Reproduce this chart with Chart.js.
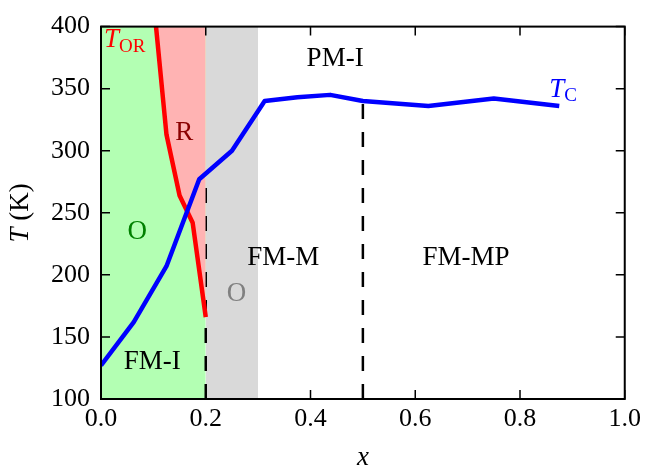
<!DOCTYPE html>
<html>
<head>
<meta charset="utf-8">
<script src="https://cdn.jsdelivr.net/npm/chart.js@4.4.1/dist/chart.umd.min.js"></script>
<style>
  html, body { margin: 0; padding: 0; background: #fff; }
</style>
</head>
<body>
<canvas id="phase" width="646" height="471"></canvas>
<script>
// Curie temperature T_C(x)
const xTc = [0, 0.0625, 0.125, 0.1875, 0.25, 0.3125, 0.375, 0.4375, 0.5, 0.625, 0.75, 0.875];
const tTc = [127, 162, 207, 277, 300, 340, 343, 345, 340, 336, 342, 336];

// orthorhombic -> rhombohedral transition T_OR(x)
const xTor = [0.1, 0.125, 0.15, 0.175, 0.2];
const tTor = [422, 313, 264, 242, 166];

// dashed phase boundaries: x, lower T, upper T
const boundaryX = [0.2, 0.5];
const boundaryLow = [100, 100];
const boundaryHigh = [280, 340];

// shaded composition ranges
const greenSpan = [0, 0.2];
const graySpan = [0.2, 0.3];

// axes
const xRange = [0, 1];
const yRange = [100, 400];
const xTicks = [0, 0.2, 0.4, 0.6, 0.8, 1.0];
const yTicks = [100, 150, 200, 250, 300, 350, 400];

const SERIF = "'Liberation Serif', 'DejaVu Serif', serif";
Chart.defaults.font.family = SERIF;

// text labels (data coords, alphabetic baseline)
const phaseLabels = [
    { text: 'PM-I',  x: 0.447, y: 368, color: '#000000' },
    { text: 'FM-M',  x: 0.348, y: 208, color: '#000000' },
    { text: 'FM-MP', x: 0.697, y: 208, color: '#000000' },
    { text: 'FM-I',  x: 0.098, y: 124, color: '#000000' },
    { text: 'R',     x: 0.159, y: 309, color: '#8b0000' },
    { text: 'O',     x: 0.069, y: 229, color: '#008000' },
    { text: 'O',     x: 0.2585, y: 179, color: '#808080' }
];

function setFont(ctx, italic, size) {
    ctx.font = (italic ? 'italic ' : '') + size + 'px ' + SERIF;
}

// draws a run of text pieces with different styles, left or centered
function richText(ctx, parts, x, y, align) {
    let total = 0;
    parts.forEach(p => {
        setFont(ctx, p.italic, p.size);
        p.w = ctx.measureText(p.text).width;
        total += p.w;
    });
    let cx = align === 'center' ? x - total / 2 : x;
    ctx.textAlign = 'left';
    ctx.textBaseline = 'alphabetic';
    parts.forEach(p => {
        setFont(ctx, p.italic, p.size);
        ctx.fillText(p.text, cx, y + (p.dy || 0));
        cx += p.w;
    });
}

const decorPlugin = {
    id: 'decor',
    afterDatasetsDraw(chart) {
        const ctx = chart.ctx;
        const area = chart.chartArea;
        const sx = chart.scales.x;
        const sy = chart.scales.y;
        ctx.save();

        // frame
        ctx.strokeStyle = '#000';
        ctx.lineWidth = 2;
        ctx.strokeRect(area.left, area.top, area.right - area.left, area.bottom - area.top);

        // inward ticks on all four sides
        ctx.lineWidth = 1.5;
        const tl = 9;
        ctx.beginPath();
        xTicks.forEach(v => {
            const px = sx.getPixelForValue(v);
            ctx.moveTo(px, area.bottom); ctx.lineTo(px, area.bottom - tl);
            ctx.moveTo(px, area.top); ctx.lineTo(px, area.top + tl);
        });
        yTicks.forEach(v => {
            const py = sy.getPixelForValue(v);
            ctx.moveTo(area.left, py); ctx.lineTo(area.left + tl, py);
            ctx.moveTo(area.right, py); ctx.lineTo(area.right - tl, py);
        });
        ctx.stroke();

        // phase labels
        phaseLabels.forEach(l => {
            ctx.fillStyle = l.color;
            richText(ctx, [{ text: l.text, size: 27 }], sx.getPixelForValue(l.x), sy.getPixelForValue(l.y), 'center');
        });

        // curve labels
        ctx.fillStyle = '#ff0000';
        richText(ctx, [
            { text: 'T', italic: true, size: 27 },
            { text: 'OR', size: 19, dy: 5 }
        ], sx.getPixelForValue(0.0057), sy.getPixelForValue(383.4), 'left');

        ctx.fillStyle = '#0000ff';
        richText(ctx, [
            { text: 'T', italic: true, size: 27 },
            { text: 'C', size: 19, dy: 4 }
        ], sx.getPixelForValue(0.856), sy.getPixelForValue(343), 'left');

        // axis titles
        ctx.fillStyle = '#000';
        richText(ctx, [{ text: 'x', italic: true, size: 27 }], (area.left + area.right) / 2, 465, 'center');

        ctx.translate(28, (area.top + area.bottom) / 2);
        ctx.rotate(-Math.PI / 2);
        richText(ctx, [
            { text: 'T', italic: true, size: 27 },
            { text: ' (K)', size: 27 }
        ], 0, 0, 'center');

        ctx.restore();
    }
};

function toPoints(xs, ys) {
    return xs.map((x, i) => ({ x: x, y: ys[i] }));
}

const datasets = [
    {
        label: 'T_C',
        data: toPoints(xTc, tTc),
        borderColor: '#0000ff',
        borderWidth: 4.5,
        borderJoinStyle: 'round',
        pointRadius: 0,
        fill: false
    },
    {
        label: 'T_OR',
        data: toPoints(xTor, tTor),
        borderColor: '#ff0000',
        borderWidth: 4.5,
        borderJoinStyle: 'round',
        backgroundColor: '#ffb3b3',
        pointRadius: 0,
        fill: 'end'
    }
];

boundaryX.forEach((bx, i) => {
    datasets.push({
        label: 'boundary ' + bx,
        data: [{ x: bx, y: boundaryLow[i] }, { x: bx, y: boundaryHigh[i] }],
        borderColor: '#000',
        borderWidth: 2.5,
        borderDash: [15, 13],
        pointRadius: 0,
        fill: false
    });
});

datasets.push({
    label: 'gray',
    data: graySpan.map(x => ({ x: x, y: yRange[1] })),
    borderWidth: 0,
    backgroundColor: '#d9d9d9',
    pointRadius: 0,
    fill: 'start'
});
datasets.push({
    label: 'green',
    data: greenSpan.map(x => ({ x: x, y: yRange[1] })),
    borderWidth: 0,
    backgroundColor: '#b3ffb3',
    pointRadius: 0,
    fill: 'start'
});

const tickFont = { family: SERIF, size: 26 };

new Chart(document.getElementById('phase'), {
    type: 'line',
    data: { datasets: datasets },
    options: {
        responsive: false,
        animation: false,
        devicePixelRatio: 1,
        layout: { padding: { left: 0, right: 17, top: 20, bottom: 0 } },
        plugins: {
            legend: { display: false },
            tooltip: { enabled: false }
        },
        scales: {
            x: {
                type: 'linear',
                min: xRange[0],
                max: xRange[1],
                afterBuildTicks: s => { s.ticks = xTicks.map(v => ({ value: v })); },
                afterFit: s => { s.height = 72; },
                grid: { display: false, drawTicks: false },
                border: { display: false },
                ticks: {
                    padding: 5,
                    color: '#000',
                    font: tickFont,
                    callback: v => v.toFixed(1)
                }
            },
            y: {
                type: 'linear',
                min: yRange[0],
                max: yRange[1],
                afterBuildTicks: s => { s.ticks = yTicks.map(v => ({ value: v })); },
                afterFit: s => { s.width = 101; },
                grid: { display: false, drawTicks: false },
                border: { display: false },
                ticks: {
                    padding: 11,
                    color: '#000',
                    font: tickFont,
                    callback: v => String(v)
                }
            }
        }
    },
    plugins: [decorPlugin]
});
</script>
</body>
</html>
